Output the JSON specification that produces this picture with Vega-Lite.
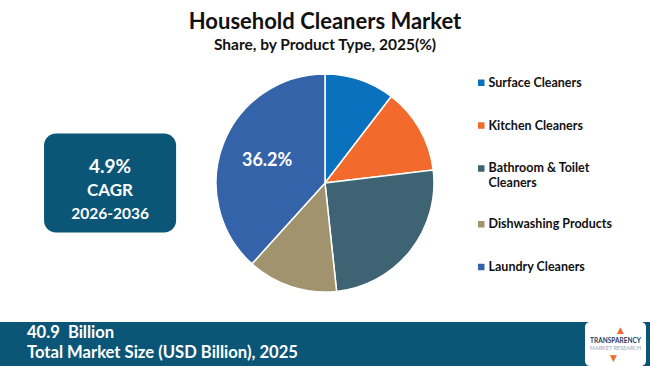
{
  "$schema": "https://vega.github.io/schema/vega-lite/v6.json",
  "background": "white",
  "padding": {"top": 10, "left": 0, "right": 0, "bottom": 0},
  "spacing": 16,
  "config": {"view": {"stroke": null}, "font": "Lato"},
  "title": {
    "text": "Household Cleaners Market",
    "subtitle": "Share, by Product Type, 2025(%)",
    "anchor": "middle",
    "font": "Lato", "fontSize": 22, "fontWeight": "bold", "color": "#111111",
    "subtitleFont": "Lato", "subtitleFontSize": 15.5, "subtitleFontWeight": "bold", "subtitleColor": "#111111",
    "subtitlePadding": 4, "offset": 6
  },
  "vconcat": [
    {
      "width": 650,
      "height": 246,
      "layer": [
        {
          "data": {"values": [{"k": "CAGR", "rate": "4.9%", "word": "CAGR", "period": "2026-2036"}]},
          "encoding": {
            "x": {"field": "k", "type": "nominal", "axis": null, "scale": {"type": "band", "paddingInner": 0.49, "paddingOuter": 1, "align": 0.085}},
            "y": {"field": "k", "type": "nominal", "axis": null, "scale": {"type": "band", "paddingInner": 0, "paddingOuter": 0.742}}
          },
          "layer": [
            {"mark": {"type": "rect", "cornerRadius": 12, "color": "#0b5677"}},
            {"mark": {"type": "text", "fontSize": 19, "fontWeight": "bold", "color": "white", "baseline": "middle", "dy": -16}, "encoding": {"text": {"field": "rate"}}},
            {"mark": {"type": "text", "fontSize": 17, "fontWeight": "bold", "color": "white", "baseline": "middle", "dy": 7.5}, "encoding": {"text": {"field": "word"}}},
            {"mark": {"type": "text", "fontSize": 15.5, "fontWeight": "bold", "color": "white", "baseline": "middle", "dy": 30.5}, "encoding": {"text": {"field": "period"}}}
          ]
        },
        {
          "data": {"values": [
            {"segment": "Surface Cleaners", "share": 10.4, "order": 1, "label": ""},
            {"segment": "Kitchen Cleaners", "share": 12.7, "order": 2, "label": ""},
            {"segment": "Bathroom & Toilet Cleaners", "share": 25.2, "order": 3, "label": ""},
            {"segment": "Dishwashing Products", "share": 13.4, "order": 4, "label": ""},
            {"segment": "Laundry Cleaners", "share": 38.3, "order": 5, "label": "36.2%"}
          ]},
          "layer": [
            {
              "mark": {"type": "arc", "outerRadius": 109, "stroke": "white", "strokeWidth": 1.5},
              "encoding": {
                "theta": {"field": "share", "type": "quantitative", "stack": true},
                "order": {"field": "order", "type": "quantitative"},
                "color": {
                  "field": "segment", "type": "nominal",
                  "scale": {
                    "domain": ["Surface Cleaners", "Kitchen Cleaners", "Bathroom & Toilet Cleaners", "Dishwashing Products", "Laundry Cleaners"],
                    "range": ["#0971be", "#f26a2c", "#3e6473", "#a2936f", "#3563a9"]
                  },
                  "legend": {
                    "title": null, "orient": "none", "legendX": 475, "legendY": 14.8, "padding": 0,
                    "symbolType": "square", "symbolSize": 42, "symbolStrokeWidth": 0,
                    "labelFont": "Lato", "labelFontSize": 12.5, "labelFontWeight": "bold", "labelColor": "#111111",
                    "clipHeight": 16, "rowPadding": 26.8, "labelOffset": 1, "labelLimit": 200,
                    "labelExpr": "datum.label == 'Bathroom & Toilet Cleaners' ? ['Bathroom & Toilet', 'Cleaners'] : datum.label"
                  }
                }
              }
            },
            {
              "mark": {"type": "text", "radius": 62, "fontSize": 18, "fontWeight": "bold", "color": "white"},
              "encoding": {
                "theta": {"field": "share", "type": "quantitative", "stack": true},
                "order": {"field": "order", "type": "quantitative"},
                "detail": {"field": "segment", "type": "nominal"},
                "text": {"field": "label"}
              }
            }
          ]
        }
      ]
    },
    {
      "width": 650,
      "height": 44,
      "view": {"fill": "#0b5677", "stroke": null},
      "layer": [
        {
          "data": {"values": [{"pos": "a", "t": "40.9\u00a0 Billion\nTotal Market Size (USD Billion), 2025"}]},
          "mark": {"type": "text", "lineBreak": "\n", "lineHeight": 20, "fontSize": 16.6, "fontWeight": "bold", "color": "white", "align": "left", "baseline": "middle", "dy": -11},
          "encoding": {
            "x": {"field": "pos", "type": "nominal", "axis": null, "bandPosition": 0, "scale": {"type": "band", "paddingInner": 0, "paddingOuter": 0.0453}},
            "text": {"field": "t"}
          }
        },
        {
          "data": {"values": [{"logo": "TMR", "t1": "TRANSPARENCY", "t2": "MARKET RESEARCH"}]},
          "encoding": {
            "x": {"field": "logo", "type": "nominal", "axis": null, "scale": {"type": "band", "paddingInner": 0.7929, "paddingOuter": 1, "align": 0.9932}}
          },
          "layer": [
            {
              "mark": {"type": "rect", "color": "white", "cornerRadius": 5},
              "encoding": {
                "y": {"field": "logo", "type": "nominal", "axis": null, "scale": {"type": "band", "paddingInner": 0, "paddingOuter": 0.0}}
              }
            },
            {"mark": {"type": "text", "fontSize": 6.5, "fontWeight": "bold", "color": "#1f3a5f", "dy": -3}, "encoding": {"text": {"field": "t1"}}},
            {"mark": {"type": "text", "fontSize": 5.5, "color": "#9aa7b0", "dy": 4}, "encoding": {"text": {"field": "t2"}}},
            {"mark": {"type": "text", "fontSize": 9, "color": "#f26a2c", "dy": -14, "dx": 5, "font": "DejaVu Sans"}, "encoding": {"text": {"value": "▲"}}},
            {"mark": {"type": "text", "fontSize": 9, "color": "#f26a2c", "dy": 14, "dx": -2, "font": "DejaVu Sans"}, "encoding": {"text": {"value": "▼"}}}
          ]
        }
      ],
      "resolve": {"scale": {"x": "independent", "y": "independent"}}
    }
  ]
}
